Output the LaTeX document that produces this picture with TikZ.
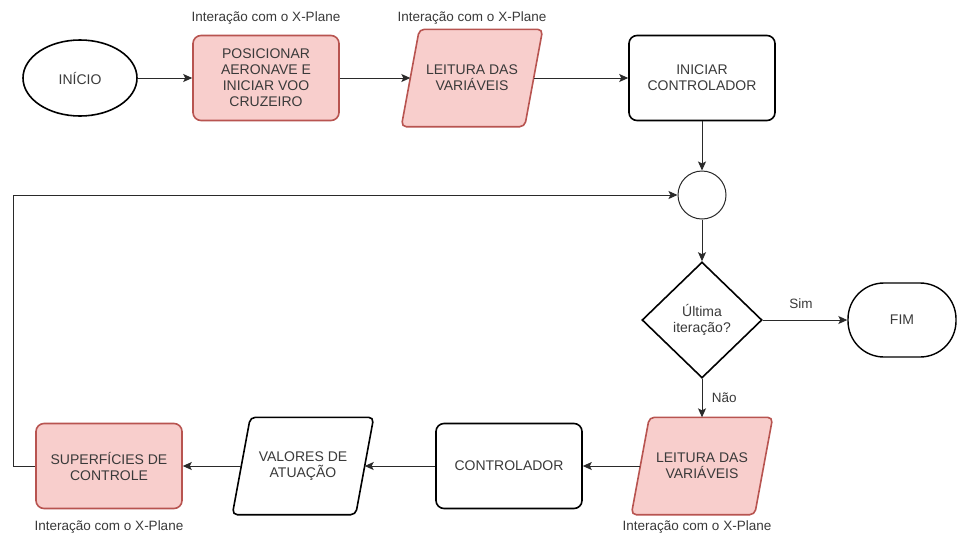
\documentclass[tikz,border=0pt]{standalone}
\usepackage{fontspec}
\setmainfont{Liberation Sans}
\usetikzlibrary{arrows.meta,shapes.geometric,backgrounds}
\definecolor{pinkf}{HTML}{F8CECC}
\definecolor{pinkd}{HTML}{B85450}
\definecolor{txt}{HTML}{3A3A3A}
\definecolor{ln}{HTML}{2A2A2A}
\begin{document}
\begin{tikzpicture}[x=1pt,y=-1pt,
  base/.style={align=center,text=txt,font=\fontsize{14}{16}\selectfont},
  box/.style={base,draw=black,rounded corners=8pt,line width=1.6pt,minimum width=146pt,minimum height=85pt},
  redbox/.style={box,fill=pinkf,draw=pinkd},
  paratext/.style={base,minimum width=141pt,minimum height=97pt,inner sep=0pt},
  parared/.style={draw=pinkd,fill=pinkf,line width=1.6pt,rounded corners=5pt},
  parawhite/.style={draw=black,fill=white,line width=1.6pt,rounded corners=5pt},
  lbl/.style={text=txt,font=\fontsize{13.5}{15}\selectfont},
  conn/.style={draw=ln,line width=1pt,-{Stealth[length=9pt,width=8pt,inset=2pt]}},
  plain/.style={draw=ln,line width=1pt}]
\begin{scope}[on background layer]
\fill[white] (0,0) rectangle (957,539);
\end{scope}
\useasboundingbox (0,0) rectangle (957,539);
% nodes
\node[base,draw=black,ellipse,line width=1.6pt,minimum width=114pt,minimum height=76pt] (ini) at (80,78) {INÍCIO};
\node[redbox] (pos) at (266,78) {POSICIONAR\\AERONAVE E\\INICIAR VOO\\CRUZEIRO};
\node[paratext] (l1) at (472,78) {LEITURA DAS\\VARIÁVEIS};
\node[box] (ictrl) at (702,78) {INICIAR\\CONTROLADOR};
\node[draw=ln,circle,line width=1pt,minimum size=48pt] (circ) at (702,195) {};
\node[base,draw=black,diamond,line width=1.6pt,minimum width=120pt,minimum height=116pt,inner sep=0pt] (dec) at (702,320) {Última\\iteração?};
\node[base,draw=black,rectangle,rounded corners=36pt,line width=1.4pt,minimum width=108pt,minimum height=74pt] (fim) at (902,320) {FIM};
\node[paratext] (l2) at (702,466) {LEITURA DAS\\VARIÁVEIS};
\node[box] (ctrl) at (509,466) {CONTROLADOR};
\node[paratext] (val) at (303,466) {VALORES DE\\ATUAÇÃO};
\node[redbox] (sup) at (109,466) {SUPERFÍCIES DE\\CONTROLE};
\coordinate (lp) at (13,466);
% parallelograms
\begin{scope}[on background layer]
\draw[parared] ([xshift=18pt]l1.north west) -- (l1.north east) -- ([xshift=-18pt]l1.south east) -- (l1.south west) -- cycle;
\draw[parared] ([xshift=18pt]l2.north west) -- (l2.north east) -- ([xshift=-18pt]l2.south east) -- (l2.south west) -- cycle;
\draw[parawhite] ([xshift=18pt]val.north west) -- (val.north east) -- ([xshift=-18pt]val.south east) -- (val.south west) -- cycle;
\end{scope}
% labels
\node[lbl] (t1) at (266,18) {Interação com o X-Plane};
\node[lbl] (t2) at (472,18) {Interação com o X-Plane};
\node[lbl] (t3) at (109,527) {Interação com o X-Plane};
\node[lbl] (t4) at (697,527) {Interação com o X-Plane};
% connectors
\draw[conn] (ini.east) -- (pos.west);
\draw[conn] (pos.east) -- ([xshift=9pt]l1.west);
\draw[conn] ([xshift=-9pt]l1.east) -- (ictrl.west);
\draw[conn] (ictrl.south) -- (circ.north);
\draw[conn] (circ.south) -- (dec.north);
\draw[conn] (dec.east) -- node[lbl,above=8pt,xshift=-4pt] (sim) {Sim} (fim.west);
\draw[conn] (dec.south) -- node[lbl,right=6pt] (nao) {Não} (l2.north);
\draw[conn] ([xshift=9pt]l2.west) -- (ctrl.east);
\draw[conn] (ctrl.west) -- ([xshift=-9pt]val.east);
\draw[conn] ([xshift=9pt]val.west) -- (sup.east);
\draw[plain] (sup.west) -- (lp);
\draw[conn] (lp) |- (circ.west);
\end{tikzpicture}
\end{document}
